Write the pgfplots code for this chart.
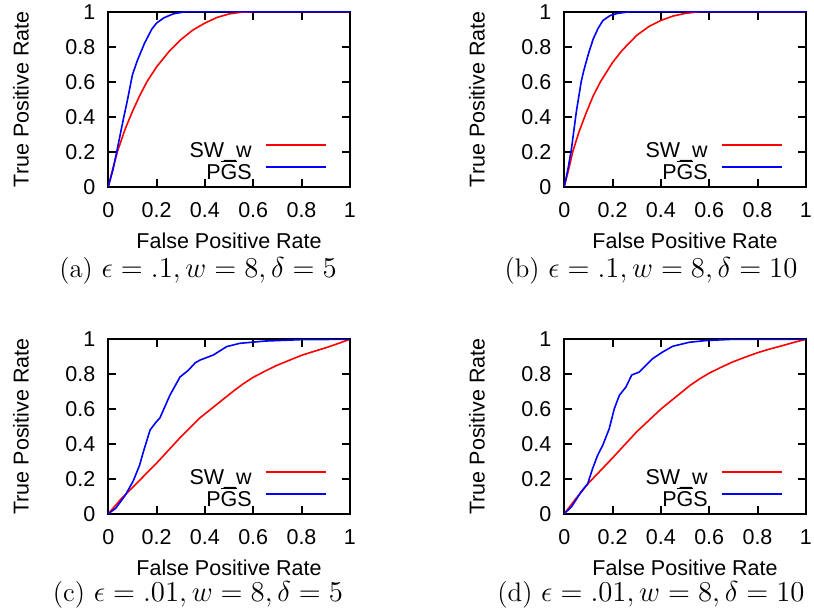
\documentclass[border=0pt]{standalone}
\usepackage{pgfplots}
\pgfplotsset{compat=1.18}
\usepackage{fontspec}
\newfontfamily\lib{Liberation Sans}
\newcommand{\lf}{\lib\fontsize{10.75}{12.9}\selectfont}
\definecolor{gpred}{RGB}{255,0,0}
\definecolor{gpblue}{RGB}{0,0,255}
\pgfplotsset{roc/.style={
  scale only axis, width=120.75pt, height=87.5pt,
  xmin=0, xmax=1, ymin=0, ymax=1,
  xtick={0,0.2,0.4,0.6,0.8,1}, ytick={0,0.2,0.4,0.6,0.8,1},
  xticklabels={0,0.2,0.4,0.6,0.8,1}, yticklabels={0,0.2,0.4,0.6,0.8,1},
  tick pos=both, tick align=inside, major tick length=4pt,
  axis line style={line width=1pt},
  every tick/.style={line width=1pt, black},
  /pgf/number format/assume math mode=true,
  tick label style={font=\lf},
  yticklabel style={xshift=-3pt},
  xticklabel style={yshift=-4.5pt},
  label style={font=\lf},
  xlabel={False Positive Rate}, ylabel={True Positive Rate},
  xlabel style={at={(axis description cs:0.5,-0.31)}, anchor=center},
  ylabel style={at={(axis description cs:-0.3615,0.5)}, anchor=center},
  legend cell align=right, legend plot pos=right,
  legend style={draw=none, fill=none, at={(rel axis cs:0.906,0.13)}, anchor=east,
    font=\lf, inner sep=0pt, column sep=6.5pt, row sep=0pt,
    nodes={inner sep=0pt, text height=7.7pt, text depth=3.15pt}},
  legend image code/.code={\draw[#1, line width=1pt] (0pt,3.85pt) -- (30pt,3.85pt);},
}}
\newcommand{\leg}{%
  \addlegendimage{color=gpred}\addlegendentry{SW\_w}
  \addlegendimage{color=gpblue}\addlegendentry{P$\overline{\hbox{G}}$S}}
\begin{document}
\begin{tikzpicture}
\path[use as bounding box] (0,0) rectangle (407pt,307.5pt);
% (a)
\begin{axis}[roc, at={(54.15pt,214.15pt)}, anchor=south west]
\leg
\addplot[color=gpred, line width=0.8pt, forget plot] coordinates {(0,0)(0.02,0.11)(0.04,0.21)(0.07,0.33)(0.1,0.43)(0.13,0.52)(0.16,0.6)(0.2,0.685)(0.25,0.77)(0.3,0.84)(0.35,0.895)(0.4,0.935)(0.45,0.967)(0.5,0.987)(0.55,0.997)(0.6,1)(1,1)};
\addplot[color=gpblue, line width=0.8pt, forget plot] coordinates {(0,0)(0.02,0.1)(0.035,0.2)(0.06,0.37)(0.08,0.5)(0.1,0.64)(0.12,0.72)(0.15,0.82)(0.18,0.9)(0.2,0.935)(0.23,0.965)(0.27,0.988)(0.32,1)(1,1)};
\end{axis}
% (b)
\begin{axis}[roc, at={(282.15pt,214.15pt)}, anchor=south west]
\leg
\addplot[color=gpred, line width=0.8pt, forget plot] coordinates {(0,0)(0.02,0.11)(0.035,0.2)(0.06,0.31)(0.09,0.42)(0.12,0.52)(0.15,0.6)(0.2,0.71)(0.24,0.78)(0.3,0.865)(0.35,0.915)(0.4,0.95)(0.45,0.975)(0.5,0.99)(0.56,1)(1,1)};
\addplot[color=gpblue, line width=0.8pt, forget plot] coordinates {(0,0)(0.015,0.1)(0.03,0.22)(0.05,0.43)(0.07,0.6)(0.08,0.66)(0.1,0.76)(0.12,0.845)(0.14,0.905)(0.16,0.95)(0.19,0.978)(0.22,0.99)(0.27,1)(1,1)};
\end{axis}
% (c)
\begin{axis}[roc, height=87.2pt, at={(54.15pt,50.65pt)}, anchor=south west]
\leg
\addplot[color=gpred, line width=0.8pt, forget plot] coordinates {(0,0)(0.05,0.08)(0.1,0.15)(0.2,0.29)(0.3,0.44)(0.38,0.55)(0.463,0.642)(0.52,0.705)(0.559,0.745)(0.6,0.782)(0.65,0.818)(0.697,0.85)(0.75,0.88)(0.8,0.908)(0.85,0.93)(0.904,0.953)(0.95,0.975)(1,1)};
\addplot[color=gpblue, line width=0.8pt, forget plot] coordinates {(0,0)(0.03,0.03)(0.07,0.105)(0.104,0.19)(0.13,0.28)(0.145,0.354)(0.173,0.48)(0.195,0.52)(0.214,0.55)(0.255,0.679)(0.297,0.784)(0.331,0.822)(0.36,0.865)(0.38,0.881)(0.435,0.91)(0.49,0.958)(0.545,0.977)(0.65,0.99)(0.8,0.998)(1,1)};
\end{axis}
% (d)
\begin{axis}[roc, height=87.2pt, at={(282.15pt,50.65pt)}, anchor=south west]
\leg
\addplot[color=gpred, line width=0.8pt, forget plot] coordinates {(0,0)(0.05,0.09)(0.1,0.175)(0.2,0.32)(0.3,0.47)(0.4,0.6)(0.463,0.671)(0.52,0.735)(0.559,0.772)(0.6,0.806)(0.65,0.84)(0.697,0.87)(0.75,0.898)(0.8,0.923)(0.85,0.944)(0.904,0.964)(0.95,0.982)(1,1)};
\addplot[color=gpblue, line width=0.8pt, forget plot] coordinates {(0,0)(0.03,0.04)(0.069,0.124)(0.097,0.172)(0.117,0.258)(0.138,0.335)(0.159,0.392)(0.186,0.487)(0.207,0.602)(0.228,0.679)(0.255,0.726)(0.279,0.795)(0.31,0.812)(0.331,0.841)(0.366,0.889)(0.407,0.927)(0.449,0.96)(0.518,0.983)(0.587,0.993)(0.7,1)(1,1)};
\end{axis}
\node[font=\fontsize{13.4}{16}\selectfont] at (99pt,171.9pt) {(a) $\epsilon = .1, w = 8, \delta = 5$};
\node[font=\fontsize{13.4}{16}\selectfont] at (325.5pt,171.9pt) {(b) $\epsilon = .1, w = 8, \delta = 10$};
\node[font=\fontsize{13.4}{16}\selectfont] at (99pt,10.25pt) {(c) $\epsilon = .01, w = 8, \delta = 5$};
\node[font=\fontsize{13.4}{16}\selectfont] at (325.5pt,10.25pt) {(d) $\epsilon = .01, w = 8, \delta = 10$};
\end{tikzpicture}
\end{document}
